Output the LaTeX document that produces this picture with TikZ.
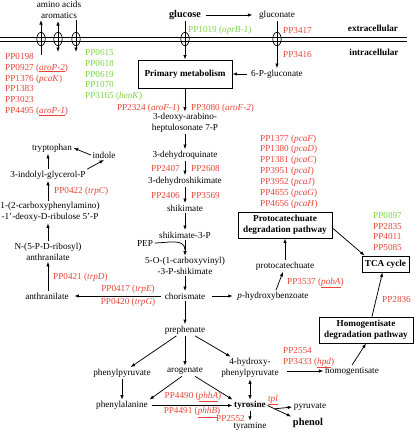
\documentclass[tikz,border=0pt]{standalone}
\usepackage{fontspec}
\setmainfont{Liberation Serif}
\usetikzlibrary{arrows.meta,calc}
\definecolor{genered}{RGB}{230,70,58}
\definecolor{genegreen}{RGB}{125,212,70}
\tikzset{
  met/.style={inner sep=1.5pt, align=center},
  gene/.style={text=genered, inner sep=1pt, align=left},
  geneg/.style={text=genegreen, inner sep=1pt, align=left},
  boldtxt/.style={font=\fontsize{9.2}{10.9}\selectfont\bfseries},
  pathbox/.style={draw, line width=0.9pt, font=\fontsize{9.2}{10.9}\selectfont\bfseries, align=center, inner sep=1pt},
  arr/.style={-{Latex[length=4.5pt,width=3.4pt]}, line width=0.75pt},
  darr/.style={{Latex[length=4.5pt,width=3.4pt]}-{Latex[length=4.5pt,width=3.4pt]}, line width=0.75pt},
}
\newcommand{\gn}[1]{\textit{#1}}
\newcommand{\ugn}[1]{\underline{\textit{#1}}}
\begin{document}
\begin{tikzpicture}[x=1pt, y=-1pt, font=\fontsize{9.2}{10.9}\selectfont]
    \useasboundingbox (0,0) rectangle (416,432);

    % Membrane
    \draw[line width=0.7pt] (0,37) -- (407,37);
    \draw[line width=0.7pt] (0,41) -- (407,41);
    \node[boldtxt] (extra) at (373,28) {extracellular};
    \node[boldtxt] (intra) at (374,52) {intracellular};

    % Transporters
    \foreach \n/\x in {t1/41, t2/58, t3/76, tg/185, tn/277} {
        \coordinate (\n) at (\x,39);
        \draw[line width=0.7pt] (\n) ellipse [x radius=4.2pt, y radius=6.7pt];
    }
    \node[met] (aa) at (59,9.5) {amino acids\\aromatics};
    \draw[arr] ($(t1)+(0,16)$) -- ($(t1)+(0,-19)$);
    \draw[darr] ($(t2)+(0,13)$) -- ($(t2)+(0,-18)$);
    \draw[arr] ($(t3)+(0,-19)$) -- ($(t3)+(0,13)$);
    \node[gene, anchor=west] (aalist) at (4,84.5) {PP0198\\PP0927 (\ugn{aroP-2})\\PP1376 (\gn{pcaK})\\PP1383\\PP3023\\PP4495 (\ugn{aroP-1})};
    \node[geneg, anchor=west] (benlist) at (84,75) {PP0615\\PP0618\\PP0619\\PP1070\\PP3165 (\gn{benK})};

    % Glucose uptake
    \node[font=\fontsize{10.2}{12}\selectfont\bfseries, inner sep=1.5pt] (glc) at (185,15) {glucose};
    \node[met] (gcn) at (277,15) {gluconate};
    \node[met] (pgcn) at (277,74) {6-P-gluconate};
    \node[pathbox, minimum width=94pt, minimum height=28pt] (prim) at (185,74) {Primary metabolism};
    \draw[arr, shorten <=3pt, shorten >=5pt] (glc) -- (gcn);
    \draw[arr] (glc) -- (prim);
    \draw[arr] (gcn) -- (pgcn);
    \draw[arr, shorten <=2pt] (pgcn) -- (prim);
    \node[geneg, anchor=west] (g1019) at (187,30) {PP1019 (\gn{oprB-1})};
    \node[gene, anchor=west] (g3417) at (282,30) {PP3417};
    \node[gene, anchor=west] (g3416) at (282,54) {PP3416};

    % Shikimate pathway
    \node[met] (dahp) at (185,123) {3-deoxy-arabino-\\heptulosonate 7-P};
    \node[met] (dhq) at (185,155) {3-dehydroquinate};
    \node[met] (dhs) at (185,181) {3-dehydroshikimate};
    \node[met] (shik) at (185,208) {shikimate};
    \node[met] (s3p) at (185,235) {shikimate-3-P};
    \node[met] (pep) at (145,243) {PEP};
    \node[met] (epsp) at (185,266) {5-O-(1-carboxyvinyl)\\-3-P-shikimate};
    \node[met] (chor) at (185,296) {chorismate};
    \node[met] (prep) at (185,330) {prephenate};
    \draw[arr] (prim) -- (dahp);
    \draw[arr] (dahp) -- (dhq);
    \draw[arr] (dhq) -- (dhs);
    \draw[arr] (dhs) -- (shik);
    \draw[arr] (shik) -- (s3p);
    \draw[arr] (s3p) -- (epsp);
    \coordinate (pepin) at (185,250);
    \draw[line width=0.75pt] (pep) to[out=0, in=90] (pepin);
    \draw[arr] (epsp) -- (chor);
    \draw[arr] (chor) -- (prep);
    \node[gene, anchor=east] (g2324) at (181,108) {PP2324 (\gn{aroF-1})};
    \node[gene, anchor=west] (g3080) at (190,108) {PP3080 (\gn{aroF-2})};
    \node[gene, anchor=east] (g2407) at (181,168) {PP2407};
    \node[gene, anchor=west] (g2608) at (190,168) {PP2608};
    \node[gene, anchor=east] (g2406) at (181,195) {PP2406};
    \node[gene, anchor=west] (g3569) at (190,195) {PP3569};

    % Tryptophan branch
    \node[met] (anth) at (47,296) {anthranilate};
    \node[met] (nra) at (48,251.5) {N-(5-P-D-ribosyl)\\anthranilate};
    \node[met, inner sep=0.5pt] (cdrp) at (50,212) {1-(2-carboxyphenylamino)\\-1'-deoxy-D-ribulose 5'-P};
    \node[met] (igp) at (48,175) {3-indolyl-glycerol-P};
    \node[met] (trp) at (52,148) {tryptophan};
    \node[met] (ind) at (104,155) {indole};
    \draw[arr, shorten <=2pt, shorten >=4pt] (chor) -- (anth);
    \draw[arr] (anth.north -| nra) -- (nra);
    \draw[arr, shorten >=1pt] (nra.north) -- (nra.north |- cdrp.south);
    \draw[arr, shorten <=1pt] (cdrp.north -| igp) -- (igp);
    \draw[arr] (igp.north) -- (igp.north |- trp.south);
    \draw[arr] (ind.west) -- (trp.east);
    \draw[arr] (igp.north east) -- (ind.south);
    \node[gene, anchor=west] (g0422) at (53,191) {PP0422 (\gn{trpC})};
    \node[gene, anchor=west] (g0421) at (52,277) {PP0421 (\gn{trpD})};
    \node[gene] (g0417) at (128,289) {PP0417 (\gn{trpE})};
    \node[gene] (g0420) at (128,302) {PP0420 (\gn{trpG})};

    % Protocatechuate branch
    \node[met] (pheb) at (273,296) {\textit{p}-hydroxybenzoate};
    \node[met] (pcat) at (285,266) {protocatechuate};
    \node[pathbox, minimum width=94pt, minimum height=26pt] (pcd) at (285,225) {Protocatechuate\\degradation pathway};
    \node[pathbox, minimum width=47pt, minimum height=16pt] (tca) at (385.5,264) {TCA cycle};
    \draw[arr, shorten <=5pt, shorten >=3pt] (chor) -- (pheb);
    \draw[arr] ([xshift=3pt]pheb.north) -- ([xshift=-2pt]pcat.south);
    \draw[arr] (pcat) -- (pcd);
    \draw[arr] ([yshift=-3pt]pcd.east) -- ([xshift=3pt]tca.north west);
    \node[gene, anchor=west] (pcalist) at (259,171.5) {PP1377 (\gn{pcaF})\\PP1380 (\gn{pcaD})\\PP1381 (\gn{pcaC})\\PP3951 (\gn{pcaI})\\PP3952 (\gn{pcaJ})\\PP4655 (\gn{pcaG})\\PP4656 (\gn{pcaH})};
    \node[gene, anchor=west] (g3537) at (286,283) {PP3537 (\ugn{pobA})};
    \node[gene, anchor=west] (tcalist) at (372,231.5) {\textcolor{genegreen}{PP0897}\\PP2835\\PP4011\\PP5085};

    % Homogentisate branch
    \node[met] (hpp) at (250,368) {4-hydroxy-\\phenylpyruvate};
    \node[met] (hgn) at (352,371) {homogentisate};
    \node[pathbox, minimum width=94pt, minimum height=26pt] (hgd) at (366,330) {Homogentisate\\degradation pathway};
    \draw[arr, shorten <=7pt] (hpp.east |- hgn) -- (hgn);
    \draw[arr] (hgn.north) -- (hgd.south);
    \draw[arr] ([xshift=6pt]hgd.north) -- ([xshift=-3pt]tca.south);
    \node[gene, anchor=west] (g2836) at (381,299) {PP2836};
    \node[gene, anchor=west] (hpdlist) at (282,357.5) {PP2554\\PP3433 (\ugn{hpd})};

    % Phenylalanine and tyrosine
    \node[met] (ppy) at (122,373) {phenylpyruvate};
    \node[met] (arog) at (185,371) {arogenate};
    \node[met] (phe) at (122,405.5) {phenylalanine};
    \node[met, boldtxt] (tyr) at (250,405.5) {tyrosine};
    \node[met] (tyra) at (250,426.5) {tyramine};
    \node[met] (pyr) at (310,407) {pyruvate};
    \node[met, font=\fontsize{10.4}{12}\selectfont\bfseries] (phen) at (308,423) {phenol};
    \draw[arr] (prep) -- (ppy);
    \draw[arr] (prep) -- (arog);
    \draw[arr] (prep) -- (hpp);
    \draw[arr] (ppy) -- (phe);
    \draw[arr] ([xshift=-3pt]arog.south) -- (phe.north east);
    \draw[arr] ([xshift=10pt]arog.south) -- (tyr.north west);
    \draw[arr, shorten <=2pt] (phe) -- (tyr);
    \draw[darr] (hpp) -- (tyr);
    \draw[arr] (tyr) -- (tyra);
    \coordinate (tplpt) at ($(tyr.east)!0.3!(phen.north west)$);
    \draw[arr] (tyr.east) -- (phen.north west);
    \draw[arr] (tplpt) -- (pyr.west);
    \node[gene] (tpl) at (273,400) {\ugn{tpl}};
    \node[gene] (g4490) at (193,397) {PP4490 (\ugn{phhA})};
    \node[gene] (g4491) at (192,412.5) {PP4491 (\ugn{phhB})};
    \node[gene, anchor=east] (g2552) at (246,418.5) {PP2552};
\end{tikzpicture}
\end{document}
